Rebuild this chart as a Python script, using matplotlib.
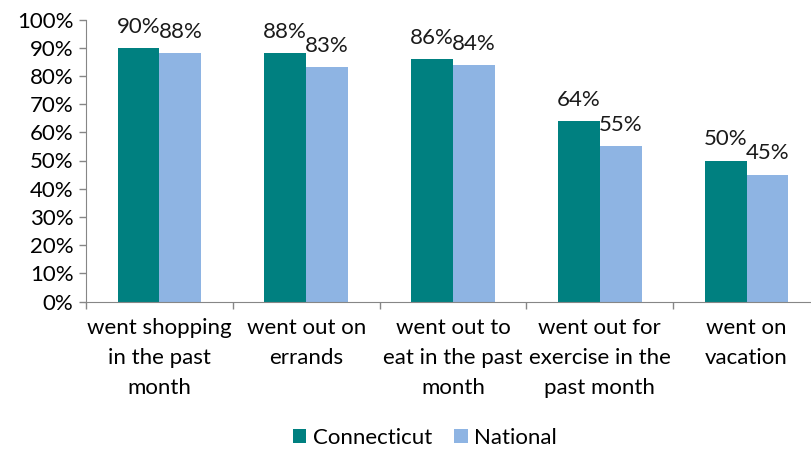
import numpy as np
import matplotlib.pyplot as plt

plt.rcParams['font.family'] = ['Lato', 'DejaVu Sans']

categories = ["went shopping\nin the past\nmonth", "went out on\nerrands",
              "went out to\neat in the past\nmonth", "went out for\nexercise in the\npast month",
              "went on\nvacation"]
connecticut = [90, 88, 86, 64, 50]
national = [88, 83, 84, 55, 45]
yticks = [0, 10, 20, 30, 40, 50, 60, 70, 80, 90, 100]

teal = "#008080"
blue = "#8EB4E3"
grey = "#868686"
fs = 16

fig = plt.figure(figsize=(8.11, 4.51), dpi=100)
# axes runs a bit past the right edge, as in the source image
ax = fig.add_axes([86 / 811, 1 - 301.5 / 451, 734 / 811, 282 / 451])

x = np.arange(len(categories))
w = 0.285
b1 = ax.bar(x - w / 2, connecticut, w, color=teal, label="Connecticut")
b2 = ax.bar(x + w / 2, national, w, color=blue, label="National")

for bars, vals in ((b1, connecticut), (b2, national)):
    for rect, v in zip(bars, vals):
        ax.annotate(f"{v}%", (rect.get_x() + rect.get_width() / 2, v),
                    xytext=(0, 8), textcoords="offset points",
                    ha="center", va="bottom", fontsize=fs, color="#1a1a1a")

ax.set_xlim(-0.5, len(categories) - 0.5)
ax.set_ylim(0, 100)
ax.set_yticks(yticks)
ax.set_yticklabels([f"{t}%" for t in yticks], fontsize=fs)

ax.set_xticks(x)
ax.set_xticklabels(categories, fontsize=fs, linespacing=1.62)
ax.set_xticks(np.arange(len(categories) + 1) - 0.5, minor=True)
ax.tick_params(axis="x", which="major", length=0, pad=12)
ax.tick_params(axis="x", which="minor", length=5, color=grey, width=1)
ax.tick_params(axis="y", length=5, color=grey, width=1, pad=4)

for s in ("top", "right"):
    ax.spines[s].set_visible(False)
for s in ("left", "bottom"):
    ax.spines[s].set_color(grey)

fig.legend(handles=[b1, b2], loc="center", bbox_to_anchor=(425 / 811, 1 - 438 / 451),
           ncol=2, frameon=False, fontsize=fs, handlelength=0.6, handleheight=0.6,
           handletextpad=0.3, columnspacing=1.0)

fig.savefig("out.png", dpi=100)
